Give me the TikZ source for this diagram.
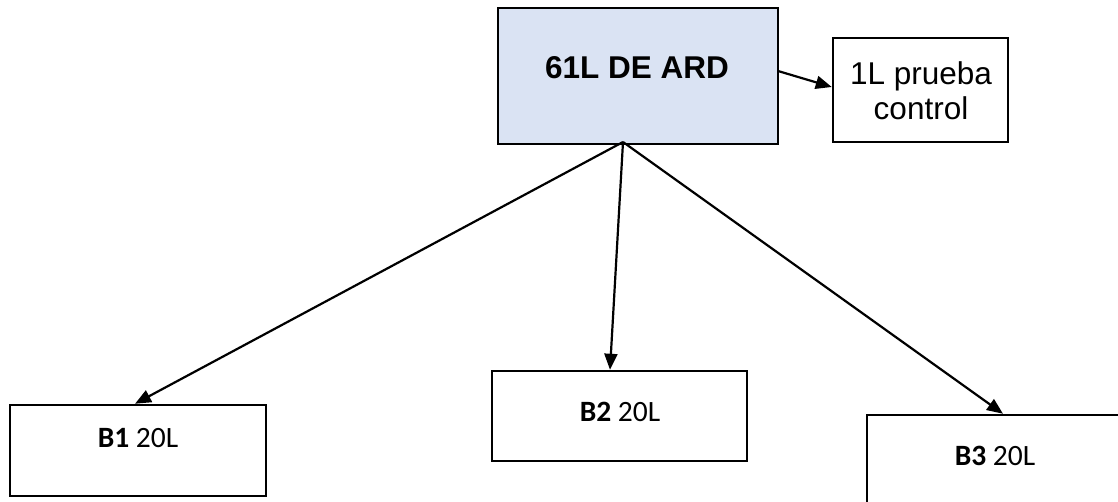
\documentclass[tikz,border=0pt]{standalone}
\usepackage{fontspec}
\setmainfont{Liberation Sans}
\newfontfamily\calib{Carlito}
\usetikzlibrary{arrows.meta}
\definecolor{boxblue}{HTML}{DAE3F3}
\tikzset{
  box/.style={draw=black, line width=2.5pt, inner sep=0pt},
  conn/.style={line width=2.2pt, -{Triangle[length=16pt,width=13pt]}},
  bigtext/.style={font=\fontsize{31.5}{36}\selectfont\bfseries, inner sep=0pt},
  sidetext/.style={font=\fontsize{31.5}{35}\selectfont, align=center, inner sep=0pt},
  btext/.style={font=\calib\fontsize{29.5}{32}\selectfont, inner sep=0pt}
}
\begin{document}
\begin{tikzpicture}[x=1pt,y=-1pt]
\useasboundingbox (0,0) rectangle (1118,501);
\clip (0,0) rectangle (1118,501);
\fill[white] (0,0) rectangle (1118,501);
% top box
\node[box, fill=boxblue, minimum width=280pt, minimum height=136pt] (top) at (638,76) {};
\node[bigtext] (toptxt) at (637,68) {61L DE ARD};
% side box
\node[box, minimum width=175pt, minimum height=104pt] (side) at (920.5,90) {};
\node[sidetext] (sidetxt) at (921,91) {1L prueba\\control};
% bottom boxes
\node[box, minimum width=256pt, minimum height=91pt] (b1) at (138,450.5) {};
\node[btext] (b1txt) at (138,438) {\textbf{B1} 20L};
\node[box, minimum width=255pt, minimum height=90pt] (b2) at (619.5,416) {};
\node[btext] (b2txt) at (620,412) {\textbf{B2} 20L};
\node[box, minimum width=280pt, minimum height=110pt] (b3) at (1007,470) {};
\node[btext] (b3txt) at (995,456) {\textbf{B3} 20L};
% connectors
\coordinate (src) at (623,142);
\coordinate (sideS) at (778,71);
\draw[conn] (sideS) -- (side.west |- 0,87);
\draw[conn] (src) -- (b1.north -| 135,0);
\draw[conn] (src) -- (b2.north -| 610,0);
\draw[conn] (src) -- (b3.north -| 1003,0);
\end{tikzpicture}
\end{document}
